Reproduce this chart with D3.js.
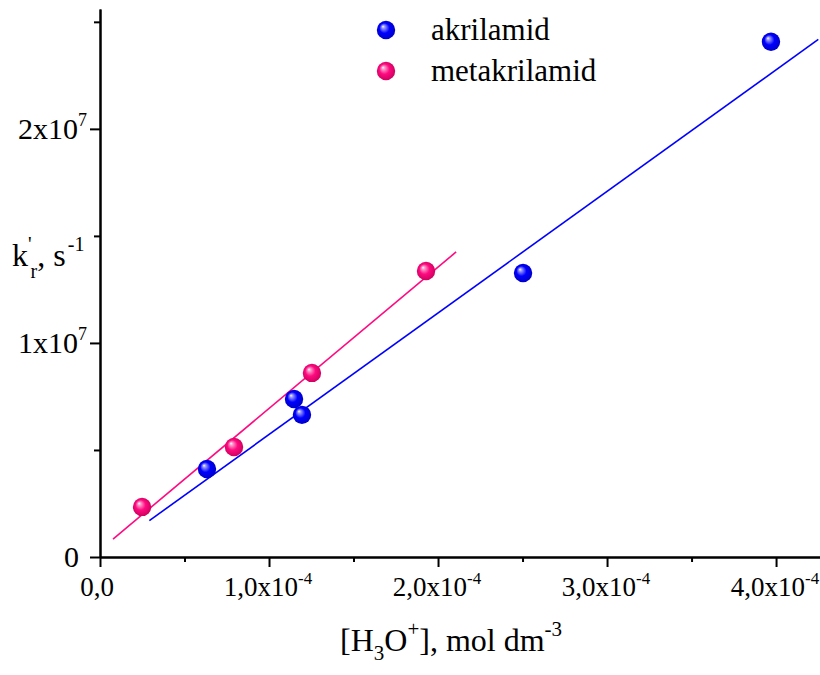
<!DOCTYPE html>
<html>
<head>
<meta charset="utf-8">
<script src="https://cdn.jsdelivr.net/npm/d3@7"></script>
<style>
  html, body { margin: 0; padding: 0; background: #fff; }
  svg { display: block; }
  text { font-family: "Liberation Serif", "Times New Roman", serif; fill: #000; }
</style>
</head>
<body>
<svg id="chart" width="820" height="675"></svg>
<script>
// ---- data ----
const seriesNames = ["akrilamid", "metakrilamid"];
const akrilamidX = [0.633e-4, 1.148e-4, 1.195e-4, 2.503e-4, 3.970e-4];
const akrilamidY = [0.411e7, 0.738e7, 0.664e7, 1.327e7, 2.407e7];
const metakrilamidX = [0.249e-4, 0.793e-4, 1.254e-4, 1.929e-4];
const metakrilamidY = [0.234e7, 0.514e7, 0.860e7, 1.336e7];
// linear fit lines: [start, end]
const akrilamidFitX = [0.292e-4, 4.25e-4];
const akrilamidFitY = [0.170e7, 2.418e7];
const metakrilamidFitX = [0.077e-4, 2.107e-4];
const metakrilamidFitY = [0.084e7, 1.425e7];
// tick labels
const xTickValues = [0, 1e-4, 2e-4, 3e-4, 4e-4];
const xTickMain = ["0,0", "1,0x10", "2,0x10", "3,0x10", "4,0x10"];
const xTickSup = ["", "-4", "-4", "-4", "-4"];
const xMinorTicks = [0.5e-4, 1.5e-4, 2.5e-4, 3.5e-4];
const yTickValues = [0, 1e7, 2e7];
const yTickMain = ["0", "1x10", "2x10"];
const yTickSup = ["", "7", "7"];
const yMinorTicks = [0.5e7, 1.5e7, 2.5e7];

const colors = { akrilamid: "#0000ff", metakrilamid: "#ff0a80" };
const FONT = "Liberation Serif, Times New Roman, serif";

const svg = d3.select("#chart");
const x = d3.scaleLinear().domain([0, 4.26e-4]).range([100, 820]);
const y = d3.scaleLinear().domain([0, 2.56e7]).range([557, 9]);

// gradients for shaded spheres
const defs = svg.append("defs");
function sphere(id, light, main, dark) {
  const g = defs.append("radialGradient").attr("id", id)
    .attr("cx", "0.5").attr("cy", "0.5").attr("r", "0.55")
    .attr("fx", "0.33").attr("fy", "0.3");
  g.append("stop").attr("offset", "0%").attr("stop-color", "#ffffff");
  g.append("stop").attr("offset", "15%").attr("stop-color", light);
  g.append("stop").attr("offset", "50%").attr("stop-color", main);
  g.append("stop").attr("offset", "100%").attr("stop-color", dark);
}
sphere("gBlue", "#9a9aff", "#0000ff", "#0000c0");
sphere("gPink", "#ff9ccc", "#ff0a80", "#c8005a");

// axes
const xMinorAxis = d3.axisBottom(x).tickValues(xMinorTicks).tickSize(5).tickSizeOuter(0).tickFormat("");
const xAxis = d3.axisBottom(x).tickValues(xTickValues).tickSize(10).tickSizeOuter(0).tickFormat("");
const yMinorAxis = d3.axisLeft(y).tickValues(yMinorTicks).tickSize(6).tickSizeOuter(0).tickFormat("");
const yAxis = d3.axisLeft(y).tickValues(yTickValues).tickSize(10).tickSizeOuter(0).tickFormat("");

function styleAxis(g) {
  g.selectAll("path").attr("stroke", "#000").attr("stroke-width", 2);
  g.selectAll("line").attr("stroke", "#000").attr("stroke-width", 2);
}
svg.append("g").attr("transform", `translate(0,${y(0)})`).call(xMinorAxis).call(styleAxis);
svg.append("g").attr("transform", `translate(0,${y(0)})`).call(xAxis).call(styleAxis);
svg.append("g").attr("transform", `translate(${x(0)},0)`).call(yMinorAxis).call(styleAxis);
svg.append("g").attr("transform", `translate(${x(0)},0)`).call(yAxis).call(styleAxis);

// x tick labels
xTickValues.forEach((v, i) => {
  const t = svg.append("text").attr("font-family", FONT).attr("font-size", 27).attr("text-anchor", "middle")
    .attr("x", x(v) + (xTickSup[i] ? -1 : -3)).attr("y", y(0) + 39);
  t.append("tspan").text(xTickMain[i]);
  if (xTickSup[i]) t.append("tspan").attr("font-size", 17).attr("dy", -12).text(xTickSup[i]);
});
// y tick labels
yTickValues.forEach((v, i) => {
  const t = svg.append("text").attr("font-family", FONT).attr("font-size", 30).attr("text-anchor", "end")
    .attr("x", yTickSup[i] ? x(0) - 13 : x(0) - 21).attr("y", y(v) + 10);
  t.append("tspan").text(yTickMain[i]);
  if (yTickSup[i]) t.append("tspan").attr("font-size", 18).attr("dy", -13).text(yTickSup[i]);
});

// axis titles
const xt = svg.append("text").attr("font-family", FONT).attr("font-size", 32).attr("x", 340).attr("y", 651);
xt.append("tspan").text("[H");
xt.append("tspan").attr("font-size", 21).attr("dy", 9).text("3");
xt.append("tspan").attr("dy", -9).text("O");
xt.append("tspan").attr("font-size", 21).attr("dy", -15).text("+");
xt.append("tspan").attr("dy", 15).text("], mol dm");
xt.append("tspan").attr("font-size", 21).attr("dy", -15).text("-3");

const yt = svg.append("text").attr("font-family", FONT).attr("font-size", 32).attr("x", 12).attr("y", 266);
yt.append("tspan").text("k");
yt.append("tspan").attr("font-size", 20).attr("dy", -15).text("'");
yt.append("tspan").attr("font-size", 20).attr("dx", -1).attr("dy", 27).text("r");
yt.append("tspan").attr("dy", -12).text(", s");
yt.append("tspan").attr("font-size", 20).attr("dx", 2).attr("dy", -15).text("-1");

// fit lines
const line = d3.line().x(d => x(d[0])).y(d => y(d[1]));
svg.append("path").datum(d3.zip(akrilamidFitX, akrilamidFitY)).attr("d", line)
  .attr("fill", "none").attr("stroke", colors.akrilamid).attr("stroke-width", 1.6);
svg.append("path").datum(d3.zip(metakrilamidFitX, metakrilamidFitY)).attr("d", line)
  .attr("fill", "none").attr("stroke", colors.metakrilamid).attr("stroke-width", 1.6);

// points
svg.append("g").selectAll("circle").data(d3.zip(akrilamidX, akrilamidY)).join("circle")
  .attr("cx", d => x(d[0])).attr("cy", d => y(d[1])).attr("r", 9.2).attr("fill", "url(#gBlue)");
svg.append("g").selectAll("circle").data(d3.zip(metakrilamidX, metakrilamidY)).join("circle")
  .attr("cx", d => x(d[0])).attr("cy", d => y(d[1])).attr("r", 9.2).attr("fill", "url(#gPink)");

// legend
const legend = svg.append("g");
const legY = [30, 71];
const legFill = ["url(#gBlue)", "url(#gPink)"];
seriesNames.forEach((n, i) => {
  legend.append("circle").attr("cx", 386).attr("cy", legY[i]).attr("r", 9.2).attr("fill", legFill[i]);
  legend.append("text").attr("font-family", FONT).attr("font-size", 31).attr("x", 431).attr("y", legY[i] + 10).text(n);
});
</script>
</body>
</html>
